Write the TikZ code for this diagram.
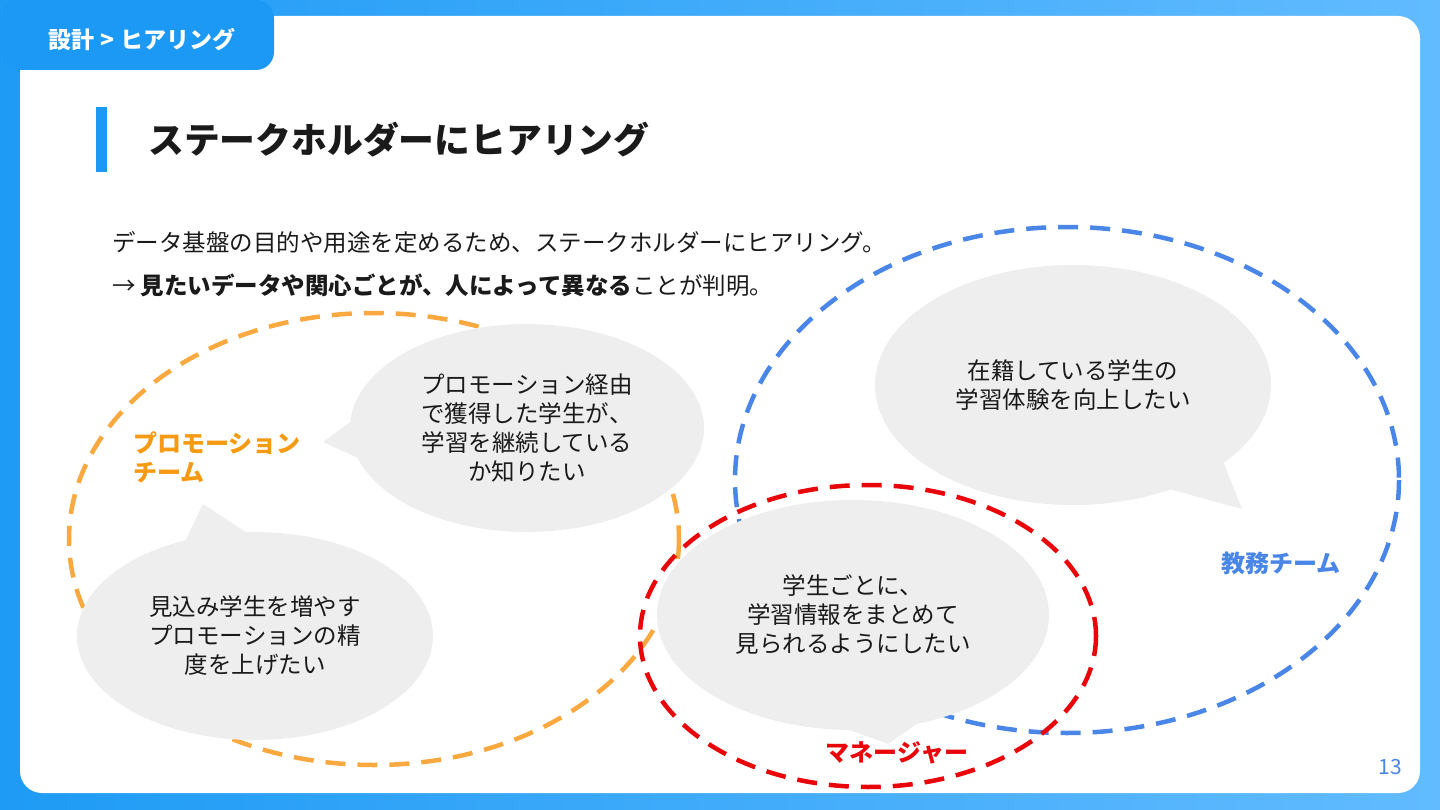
\documentclass[tikz,border=0pt]{standalone}
\usepackage{fontspec}
\setmainfont{Noto Sans CJK JP}
\usetikzlibrary{shapes.callouts}
\definecolor{tabblue}{HTML}{1C99F5}
\definecolor{bgleft}{HTML}{1E9BF5}
\definecolor{bgright}{HTML}{62BBFF}
\definecolor{bubblegray}{HTML}{EEEEEE}
\definecolor{inkblack}{HTML}{1A1A1A}
\definecolor{promoorange}{HTML}{F9A93F}
\definecolor{promotext}{HTML}{F59A12}
\definecolor{edublue}{HTML}{4A86E8}
\definecolor{mgrred}{HTML}{E8060B}
\tikzset{
	bubble/.style={ellipse callout, fill=bubblegray, inner sep=0pt, align=center, text=inkblack,
		font=\fontsize{23.5}{29}\selectfont, callout pointer arc=20},
	team/.style={line width=4.5pt, dash pattern=on 20pt off 12pt},
	teamlabel/.style={font=\fontsize{24}{29}\selectfont\bfseries, align=left, inner sep=0pt}
}
\begin{document}
\begin{tikzpicture}[x=1pt, y=-1pt, line join=round]
	\useasboundingbox (0,0) rectangle (1440,810);
	% frame
	\shade[left color=bgleft, right color=bgright] (0,0) rectangle (1440,810);
	\fill[white, rounded corners=22] (20,16) rectangle (1420,793);
	\fill[tabblue, rounded corners=18] (0,0) rectangle (274,70);
	\node[text=white, font=\fontsize{23}{26}\selectfont\bfseries] (tab) at (142,40) {設計\hspace{6pt}>\hspace{6pt}ヒアリング};
	\fill[tabblue] (96,107) rectangle (107,172);
	\node[anchor=west, inner sep=0pt, text=inkblack, font=\fontsize{35.8}{40}\selectfont\bfseries] (title) at (148,140) {ステークホルダーにヒアリング};
	\node[anchor=west, inner sep=0pt, text=inkblack, font=\fontsize{23.5}{29}\selectfont] (intro) at (112,242) {データ基盤の目的や用途を定めるため、ステークホルダーにヒアリング。};
	\node[anchor=west, inner sep=0pt, text=inkblack, font=\fontsize{23.5}{29}\selectfont] (finding) at (112,285) {→ \textbf{見たいデータや関心ごとが、人によって異なる}ことが判明。};
	% stakeholder groups
	\foreach \c/\p/\rx/\ry in {promoorange/{(374,539)}/305/226, edublue/{(1067,480)}/332/253}
		\draw[team, \c] \p ellipse[x radius=\rx, y radius=\ry];
	% voices
	\coordinate (t1) at (323,442);
	\coordinate (t2) at (203,504);
	\coordinate (t3) at (1242,509);
	\coordinate (t4) at (888,744);
	\node[bubble, minimum width=354, minimum height=208, callout absolute pointer={(t1)}] (b1) at (527,428)
		{プロモーション経由\\で獲得した学生が、\\学習を継続している\\か知りたい};
	\node[bubble, minimum width=356, minimum height=208, callout absolute pointer={(t2)}] (b2) at (255,636)
		{見込み学生を増やす\\プロモーションの精\\度を上げたい};
	\node[bubble, minimum width=396, minimum height=240, callout absolute pointer={(t3)}] (b3) at (1073,385)
		{在籍している学生の\\学習体験を向上したい};
	\node[bubble, minimum width=392, minimum height=230, callout absolute pointer={(t4)}] (b4) at (853,615)
		{学生ごとに、\\学習情報をまとめて\\見られるようにしたい};
	\draw[team, mgrred] (868,636) ellipse[x radius=228, y radius=151];
	% labels
	\node[teamlabel, text=promotext, anchor=west] (promo) at (133,457) {プロモーション\\チーム};
	\node[teamlabel, text=edublue] (edu) at (1281,563) {教務チーム};
	\node[teamlabel, text=mgrred] (mgr) at (897,753) {マネージャー};
	\node[text=edublue, font=\fontsize{21}{24}\selectfont] (page) at (1390,767) {13};
\end{tikzpicture}
\end{document}
